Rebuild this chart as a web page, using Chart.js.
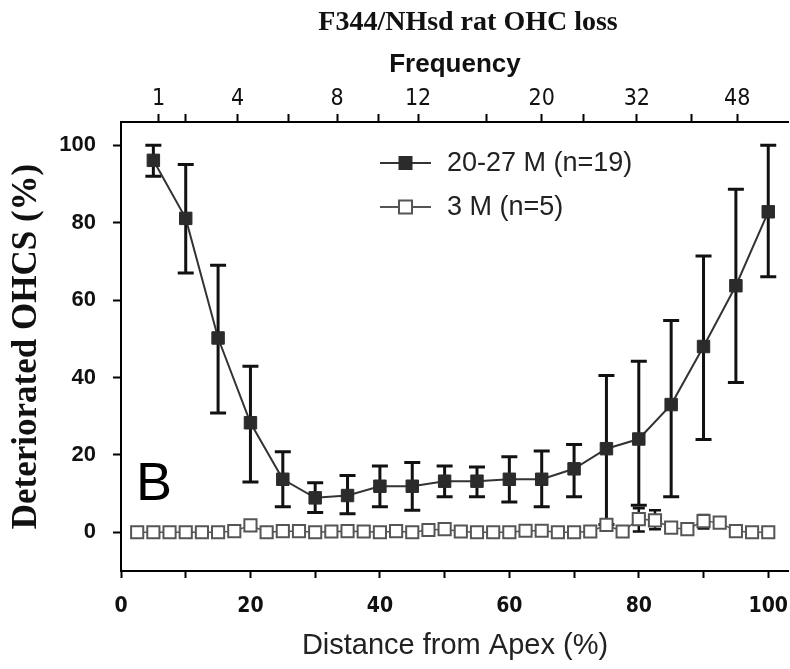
<!DOCTYPE html>
<html>
<head>
<meta charset="utf-8">
<script src="https://cdn.jsdelivr.net/npm/chart.js@4.4.0/dist/chart.umd.min.js"></script>
<style>
  html, body { margin: 0; padding: 0; background: #fff; }
  #wrap { width: 790px; height: 669px; position: relative; }
</style>
</head>
<body>
<div id="wrap"><canvas id="ohcChart"></canvas></div>
<script>
// 20-27 month rats: distance from apex (%), mean loss (%) and error bar ends
const oldDistance = [5, 10, 15, 20, 25, 30, 35, 40, 45, 50, 55, 60, 65, 70, 75, 80, 85, 90, 95, 100];
const oldMean = [96.1, 81.1, 50.2, 28.3, 13.7, 8.9, 9.5, 11.9, 11.9, 13.2, 13.2, 13.7, 13.7, 16.4, 21.6, 24.1, 33, 48, 63.7, 82.8];
const oldLow = [92, 67, 30.8, 13, 6.6, 5.1, 4.8, 6.6, 5.7, 9.2, 9.2, 7.8, 6.6, 9.2, 2, 7, 9.2, 24, 38.7, 66];
const oldHigh = [100, 95, 69, 42.9, 20.8, 12.8, 14.7, 17.1, 18, 17.1, 16.9, 19.5, 21, 22.7, 40.5, 44.2, 54.7, 71.4, 88.6, 100];

// 3 month rats
const youngDistance = [2.5, 5, 7.5, 10, 12.5, 15, 17.5, 20, 22.5, 25, 27.5, 30, 32.5, 35, 37.5, 40,
  42.5, 45, 47.5, 50, 52.5, 55, 57.5, 60, 62.5, 65, 67.5, 70, 72.5, 75, 77.5, 80, 82.5, 85, 87.5, 90,
  92.5, 95, 97.5, 100];
const youngMean = [0, 0, 0, 0, 0, 0, 0.3, 1.8, 0, 0.3, 0.3, 0, 0.2, 0.3, 0.2, 0,
  0.3, 0, 0.6, 0.8, 0.2, 0, 0, 0, 0.4, 0.4, 0, 0, 0.2, 1.9, 0.2, 3.4, 3.1, 1.2, 0.8, 2.9,
  2.5, 0.3, 0, 0];
// only three 3 M points show visible error bars
const youngErrAt = [80, 82.5, 90];
const youngErrLow = [0.2, 0.8, 1];
const youngErrHigh = [6.2, 5.7, 4.5];

// axis ticks
const distanceTicks = [0, 10, 20, 30, 40, 50, 60, 70, 80, 90, 100];
const distanceLabels = [0, 20, 40, 60, 80, 100];
const lossTicks = [0, 20, 40, 60, 80, 100];
const freqLabels = ['1', '4', '8', '12', '20', '32', '48'];
const freqLabelPos = [5.8, 18, 33.4, 45.9, 65, 79.7, 95.2];
const freqMinorPos = [10, 25.9, 39.8, 56.5, 71.4, 88.2];

const sans = "'Liberation Sans', Arial, sans-serif";
const narrow = "'Liberation Sans Narrow', 'Arial Narrow', 'DejaVu Sans Condensed', 'Liberation Sans', sans-serif";
const serif = "'Liberation Serif', 'Times New Roman', serif";

function pointsOf(xs, ys) {
  return xs.map((x, i) => ({ x: x, y: ys[i] }));
}

// error bars, drawn under the markers
const errorBars = {
  id: 'errorBars',
  beforeDatasetsDraw(chart) {
    const ctx = chart.ctx;
    const xs = chart.scales.x;
    const ys = chart.scales.y;
    chart.data.datasets.forEach(ds => {
      if (!ds.errX) return;
      ctx.save();
      ctx.strokeStyle = '#111';
      ctx.lineWidth = ds.errWidth;
      ds.errX.forEach((d, i) => {
        const x = xs.getPixelForValue(d);
        const y1 = ys.getPixelForValue(ds.errLow[i]);
        const y2 = ys.getPixelForValue(ds.errHigh[i]);
        const cap = ds.errCap;
        ctx.beginPath();
        ctx.moveTo(x, y1); ctx.lineTo(x, y2);
        ctx.moveTo(x - cap, y1); ctx.lineTo(x + cap, y1);
        ctx.moveTo(x - cap, y2); ctx.lineTo(x + cap, y2);
        ctx.stroke();
      });
      ctx.restore();
    });
  }
};

// main title, legend inside the plot, panel letter
const insideText = {
  id: 'insideText',
  afterDraw(chart) {
    const ctx = chart.ctx;
    ctx.save();
    ctx.fillStyle = '#111';
    ctx.font = 'bold 28px ' + serif;
    ctx.textAlign = 'center';
    ctx.textBaseline = 'middle';
    ctx.fillText('F344/NHsd rat OHC loss', 468, 23);
    ctx.textAlign = 'left';

    chart.data.datasets.forEach((ds, i) => {
      const y = 163 + i * 44;
      ctx.strokeStyle = ds.borderColor;
      ctx.lineWidth = 2;
      ctx.beginPath();
      ctx.moveTo(380, y); ctx.lineTo(431, y);
      ctx.stroke();
      ctx.fillStyle = ds.pointBackgroundColor;
      ctx.fillRect(399, y - 6.5, 13, 13);
      ctx.lineWidth = ds.pointBorderWidth;
      ctx.strokeStyle = ds.pointBorderColor;
      ctx.strokeRect(399, y - 6.5, 13, 13);
      ctx.fillStyle = '#222';
      ctx.font = '27px ' + sans;
      ctx.textBaseline = 'middle';
      ctx.fillText(ds.label, 447, y + 1);
    });
    ctx.fillStyle = '#000';
    ctx.font = '54px ' + sans;
    ctx.textBaseline = 'alphabetic';
    ctx.fillText('B', 136, 500);
    ctx.restore();
  }
};

const ctx = document.getElementById('ohcChart').getContext('2d');
new Chart(ctx, {
  type: 'line',
  data: {
    datasets: [
      {
        label: '20-27 M (n=19)',
        data: pointsOf(oldDistance, oldMean),
        borderColor: '#333',
        borderWidth: 2,
        pointStyle: 'rect',
        pointRadius: 8.8,
        pointBackgroundColor: '#2b2b2b',
        pointBorderColor: '#2b2b2b',
        pointBorderWidth: 1,
        errX: oldDistance,
        errLow: oldLow,
        errHigh: oldHigh,
        errWidth: 3,
        errCap: 8
      },
      {
        label: '3 M (n=5)',
        data: pointsOf(youngDistance, youngMean),
        borderColor: '#555',
        borderWidth: 1.5,
        pointStyle: 'rect',
        pointRadius: 8.6,
        pointBackgroundColor: '#fff',
        pointBorderColor: '#555',
        pointBorderWidth: 2,
        errX: youngErrAt,
        errLow: youngErrLow,
        errHigh: youngErrHigh,
        errWidth: 2.5,
        errCap: 6
      }
    ]
  },
  options: {
    responsive: true,
    maintainAspectRatio: false,
    animation: false,
    // no auto padding: the plot runs off the right edge like the original figure
    layout: { autoPadding: false, padding: { top: 39.6, left: 0, right: 0, bottom: 0 } },
    plugins: {
      legend: { display: false },
      tooltip: { enabled: false },
      title: { display: false }
    },
    scales: {
      x: {
        type: 'linear',
        position: 'bottom',
        min: 0,
        max: 103.2,
        afterFit: s => { s.height = 98; },
        afterBuildTicks: s => { s.ticks = distanceTicks.map(v => ({ value: v })); },
        border: { display: true, color: '#000', width: 2 },
        grid: { drawOnChartArea: false, drawTicks: true, tickLength: 7, tickColor: '#000', tickWidth: 2 },
        ticks: {
          autoSkip: false,
          maxRotation: 0,
          padding: 2,
          color: '#111',
          font: { family: narrow, size: 21, weight: 'bold', lineHeight: 2.5 },
          callback: v => distanceLabels.includes(v) ? String(v) : ''
        },
        title: {
          display: true,
          text: 'Distance from Apex (%)',
          color: '#222',
          font: { family: sans, size: 29 },
          padding: { bottom: 6, top: 0 }
        }
      },
      x2: {
        type: 'linear',
        position: 'top',
        min: 0,
        max: 103.2,
        afterFit: s => { s.height = 122 - 39.6; },
        afterBuildTicks: s => {
          s.ticks = freqLabelPos.concat(freqMinorPos).sort((a, b) => a - b).map(v => ({ value: v }));
        },
        border: { display: true, color: '#000', width: 2 },
        grid: { drawOnChartArea: false, drawTicks: true, tickLength: 8, tickColor: '#000', tickWidth: 2 },
        ticks: {
          autoSkip: false,
          maxRotation: 0,
          padding: 1,
          color: '#111',
          font: { family: narrow, size: 23 },
          callback: v => {
            const i = freqLabelPos.indexOf(v);
            return i >= 0 ? freqLabels[i] : '';
          }
        },
        title: {
          display: true,
          text: 'Frequency',
          color: '#111',
          font: { family: sans, size: 26, weight: 'bold' },
          padding: { top: 10, bottom: 0 }
        }
      },
      y: {
        type: 'linear',
        min: -10,
        max: 106,
        afterFit: s => { s.width = 121; },
        afterBuildTicks: s => { s.ticks = lossTicks.map(v => ({ value: v })); },
        border: { display: true, color: '#000', width: 2 },
        grid: { drawOnChartArea: false, drawTicks: true, tickLength: 8, tickColor: '#000', tickWidth: 2 },
        ticks: {
          padding: 17,
          color: '#111',
          font: { family: sans, size: 22, weight: 'bold' }
        },
        title: {
          display: true,
          text: 'Deteriorated OHCS (%)',
          color: '#111',
          font: { family: serif, size: 35, weight: 'bold' },
          padding: { top: 6, bottom: 0 }
        }
      }
    }
  },
  plugins: [errorBars, insideText]
});
</script>
</body>
</html>
